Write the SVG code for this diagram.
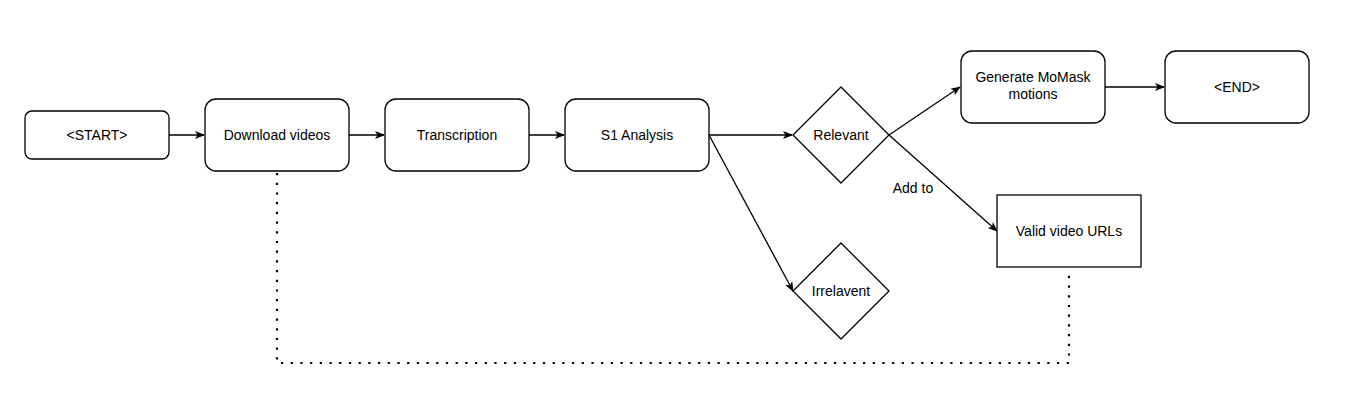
<svg xmlns="http://www.w3.org/2000/svg" width="1345" height="408" viewBox="0 0 1345 408">
<style>
.n{fill:#fff;stroke:#000;stroke-width:1.3}
.t{font-family:"Liberation Sans",Arial,sans-serif;font-size:14px;fill:#000;text-anchor:middle}
.c{fill:none;stroke:#000;stroke-width:1.3}
.d{fill:none;stroke:#000;stroke-width:2.2;stroke-dasharray:2.2 7.5}
</style>
<defs>
<marker id="a" viewBox="0 0 10 10" refX="9" refY="5" markerWidth="10" markerHeight="10" markerUnits="userSpaceOnUse" orient="auto">
<path d="M0,1 L10,5 L0,9 L2.5,5 Z" fill="#000"/>
</marker>
</defs>
<rect width="1345" height="408" fill="#fff"/>
<g id="connectors">
<line class="c" x1="169" y1="135" x2="204" y2="135" marker-end="url(#a)"/>
<line class="c" x1="349" y1="135" x2="384" y2="135" marker-end="url(#a)"/>
<line class="c" x1="529" y1="135" x2="564" y2="135" marker-end="url(#a)"/>
<line class="c" x1="709" y1="135" x2="792" y2="135" marker-end="url(#a)"/>
<line class="c" x1="709" y1="135" x2="793" y2="291" marker-end="url(#a)"/>
<line class="c" x1="889" y1="135" x2="960" y2="87" marker-end="url(#a)"/>
<line class="c" x1="889" y1="135" x2="997" y2="231" marker-end="url(#a)"/>
<line class="c" x1="1105" y1="87" x2="1164" y2="87" marker-end="url(#a)"/>
<polyline class="d" points="277,173 277,363 1069,363 1069,269"/>
<text class="t" x="913" y="193">Add to</text>
</g>
<g id="start"><rect class="n" x="25" y="111" width="144" height="48" rx="7"/><text class="t" x="97" y="140">&lt;START&gt;</text></g>
<g id="download"><rect class="n" x="205" y="99" width="144" height="72" rx="11"/><text class="t" x="277" y="140">Download videos</text></g>
<g id="transcription"><rect class="n" x="385" y="99" width="144" height="72" rx="11"/><text class="t" x="457" y="140">Transcription</text></g>
<g id="s1"><rect class="n" x="565" y="99" width="144" height="72" rx="11"/><text class="t" x="637" y="140">S1 Analysis</text></g>
<g id="relevant"><polygon class="n" points="841,87 889,135 841,183 793,135"/><text class="t" x="841" y="140">Relevant</text></g>
<g id="irrelevant"><polygon class="n" points="841,243 889,291 841,339 793,291"/><text class="t" x="841" y="296">Irrelavent</text></g>
<g id="generate"><rect class="n" x="961" y="51" width="144" height="72" rx="11"/><text class="t" x="1033" y="82">Generate MoMask</text><text class="t" x="1033" y="99">motions</text></g>
<g id="end"><rect class="n" x="1165" y="51" width="144" height="72" rx="11"/><text class="t" x="1237" y="92">&lt;END&gt;</text></g>
<g id="valid"><rect class="n" x="997" y="195" width="144" height="72"/><text class="t" x="1069" y="236">Valid video URLs</text></g>
</svg>
